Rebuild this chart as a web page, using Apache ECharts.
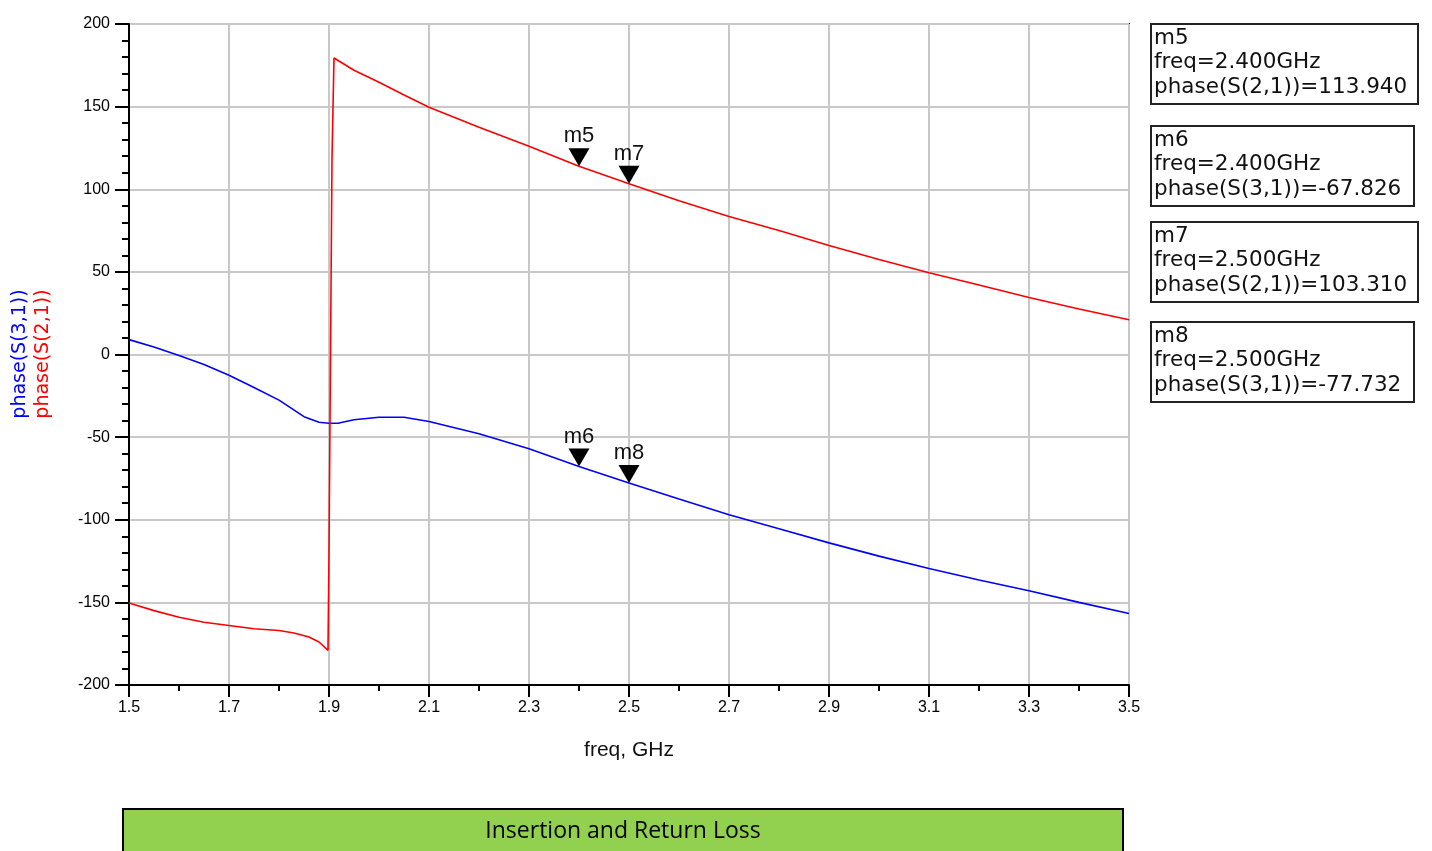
<!DOCTYPE html>
<html>
<head>
<meta charset="utf-8">
<script src="https://cdn.jsdelivr.net/npm/echarts@6/dist/echarts.min.js"></script>
<style>
  html, body { margin: 0; padding: 0; background: #fff; }
  #chart { width: 1432px; height: 851px; }
</style>
</head>
<body>
<div id="chart"></div>
<script>
// Phase of S(2,1) (red) and S(3,1) (blue) versus frequency, in degrees
const freqS21 = [1.5, 1.55, 1.6, 1.65, 1.7, 1.75, 1.8, 1.83, 1.86, 1.88, 1.898, 1.9, 1.903, 1.906, 1.91,
  1.95, 2.0, 2.05, 2.1, 2.2, 2.3, 2.4, 2.5, 2.6, 2.7, 2.8, 2.9, 3.0, 3.1, 3.2, 3.3, 3.4, 3.5];
const phaseS21 = [-150.4, -155, -159, -162, -164, -166, -167, -168.5, -171, -174, -179, -119, 0, 119, 179.4,
  172, 164.7, 157, 149.6, 137.5, 126, 113.94, 103.31, 93, 83.5, 75, 66, 57.5, 49.5, 42, 34.5, 27.5, 21];

const freqS31 = [1.5, 1.55, 1.6, 1.65, 1.7, 1.75, 1.8, 1.85, 1.88, 1.9, 1.92, 1.95, 2.0, 2.05, 2.1,
  2.2, 2.3, 2.4, 2.5, 2.6, 2.7, 2.8, 2.9, 3.0, 3.1, 3.2, 3.3, 3.4, 3.5];
const phaseS31 = [9, 4.5, -0.6, -6, -12.6, -20, -27.6, -37.6, -41, -41.6, -41.5, -39.5, -38, -38, -40.5,
  -48, -57, -67.826, -77.732, -87.5, -97, -105.5, -114, -122, -129.5, -136.5, -143, -150, -156.7];

// Markers: name, trace, frequency (GHz), phase value
const markerNames = ['m5', 'm6', 'm7', 'm8'];
const markerTrace = ['S(2,1)', 'S(3,1)', 'S(2,1)', 'S(3,1)'];
const markerFreq = [2.4, 2.4, 2.5, 2.5];
const markerPhase = [113.94, -67.826, 103.31, -77.732];

// Axis ticks
const xTicks = ['1.5', '1.7', '1.9', '2.1', '2.3', '2.5', '2.7', '2.9', '3.1', '3.3', '3.5'];
const yTicks = ['-200', '-150', '-100', '-50', '0', '50', '100', '150', '200'];

const xMin = +xTicks[0], xMax = +xTicks[xTicks.length - 1];
const yMin = +yTicks[0], yMax = +yTicks[yTicks.length - 1];

const FONT = "'Liberation Sans', Arial, sans-serif";
const WIDE = "'DejaVu Sans', sans-serif";

function pairs(xs, ys) { return xs.map((x, i) => [x, ys[i]]); }

function markersFor(trace) {
  const out = [];
  markerNames.forEach((n, i) => {
    if (markerTrace[i] === trace) out.push({ name: n, coord: [markerFreq[i], markerPhase[i]] });
  });
  return out;
}

const markPointStyle = {
  symbol: 'triangle',
  symbolRotate: 180,
  symbolSize: [21, 18],
  symbolOffset: [0, -9],
  itemStyle: { color: '#000' },
  label: {
    show: true, position: 'top', distance: 1,
    formatter: p => p.name,
    color: '#111', fontFamily: FONT, fontSize: 22
  },
  emphasis: { disabled: true }
};

// Marker readout boxes on the right
const boxTops = [23, 125, 221, 321];
const boxWidths = [267, 263, 267, 263];
const readouts = [];
markerNames.forEach((n, i) => {
  const txt = n + '\nfreq=' + markerFreq[i].toFixed(3) + 'GHz\nphase(' + markerTrace[i] + ')=' + markerPhase[i].toFixed(3);
  readouts.push({
    type: 'group', left: 1150, top: boxTops[i],
    children: [
      { type: 'rect', shape: { x: 0, y: 0, width: boxWidths[i], height: 80 },
        style: { fill: '#fff', stroke: '#222', lineWidth: 2 } },
      { type: 'text', left: 3, top: 2,
        style: { text: txt, font: '21.5px ' + WIDE, fill: '#111', lineHeight: 24.5 } }
    ]
  });
});

const chart = echarts.init(document.getElementById('chart'), null, { renderer: 'canvas' });

chart.setOption({
  backgroundColor: '#fff',
  animation: false,
  grid: { left: 129, top: 24, width: 1000, height: 661, show: true,
    borderColor: '#000', borderWidth: 2, backgroundColor: 'transparent' },
  xAxis: {
    type: 'value', min: xMin, max: xMax, interval: 0.2,
    axisLine: { show: true, onZero: false, lineStyle: { color: '#000', width: 2 } },
    axisTick: { show: true, inside: false, length: 12, lineStyle: { color: '#000', width: 2 } },
    minorTick: { show: true, splitNumber: 2, length: 6, lineStyle: { color: '#000', width: 2 } },
    splitLine: { show: true, lineStyle: { color: '#c8c8c8', width: 2 } },
    axisLabel: { margin: 15, color: '#000', fontFamily: FONT, fontSize: 16,
      formatter: v => v.toFixed(1) },
    name: 'freq, GHz', nameLocation: 'middle', nameGap: 55,
    nameTextStyle: { color: '#111', fontFamily: FONT, fontSize: 21 }
  },
  yAxis: {
    type: 'value', min: yMin, max: yMax, interval: 50,
    axisLine: { show: true, onZero: false, lineStyle: { color: '#000', width: 2 } },
    axisTick: { show: true, inside: false, length: 14, lineStyle: { color: '#000', width: 2 } },
    minorTick: { show: true, splitNumber: 5, length: 7, lineStyle: { color: '#000', width: 2 } },
    splitLine: { show: true, lineStyle: { color: '#c8c8c8', width: 2 } },
    axisLabel: { margin: 19, color: '#000', fontFamily: FONT, fontSize: 16,
      padding: [0, 0, 6, 0] }
  },
  series: [
    {
      name: 'phase(S(3,1))', type: 'line', data: pairs(freqS31, phaseS31),
      showSymbol: false, smooth: false,
      lineStyle: { color: '#0000ff', width: 1.6 },
      markPoint: Object.assign({ data: markersFor('S(3,1)') }, markPointStyle)
    },
    {
      name: 'phase(S(2,1))', type: 'line', data: pairs(freqS21, phaseS21),
      showSymbol: false, smooth: false,
      lineStyle: { color: '#ff0000', width: 1.6 },
      markPoint: Object.assign({ data: markersFor('S(2,1)') }, markPointStyle)
    }
  ],
  graphic: [
    { type: 'text', x: 20, y: 354, rotation: Math.PI / 2,
      style: { text: 'phase(S(3,1))', font: '19px ' + WIDE, fill: '#0000ff',
        textAlign: 'center', textVerticalAlign: 'middle' } },
    { type: 'text', x: 43, y: 354, rotation: Math.PI / 2,
      style: { text: 'phase(S(2,1))', font: '19px ' + WIDE, fill: '#ff0000',
        textAlign: 'center', textVerticalAlign: 'middle' } },
    ...readouts,
    { type: 'rect', shape: { x: 123, y: 809, width: 1000, height: 50 },
      style: { fill: '#92d050', stroke: '#000', lineWidth: 2 } },
    { type: 'text', x: 623, y: 831,
      style: { text: 'Insertion and Return Loss', font: '23px "Open Sans", sans-serif', fill: '#000',
        textAlign: 'center', textVerticalAlign: 'middle' } }
  ]
});
</script>
</body>
</html>
